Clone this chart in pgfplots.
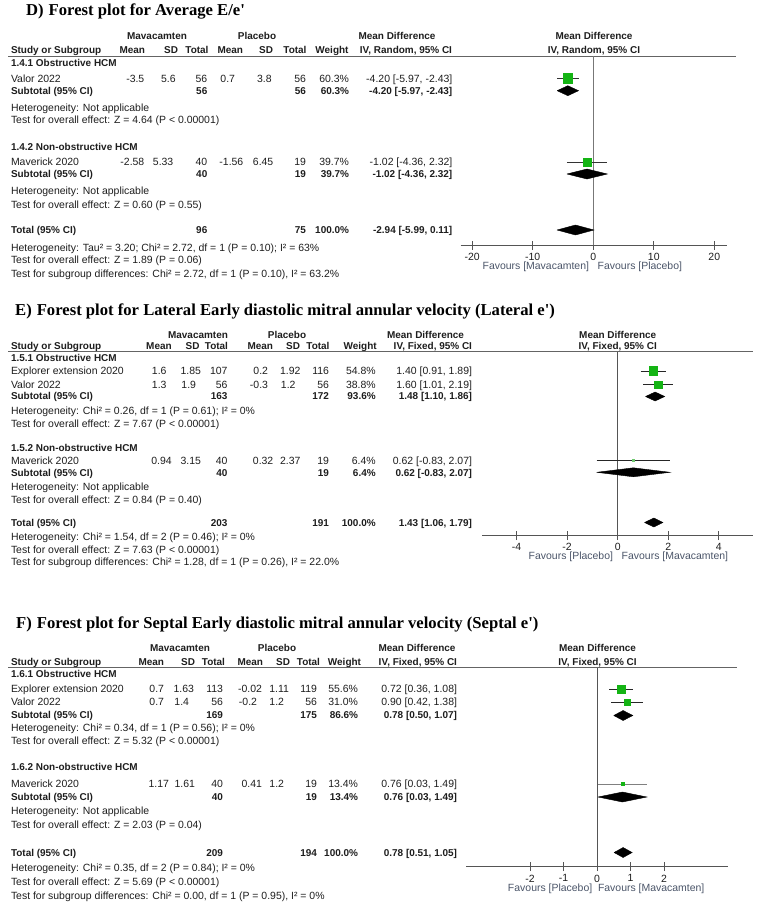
\documentclass[border=0pt]{standalone}
\usepackage{fontspec}
\setmainfont{Liberation Sans}
\newfontfamily\serifbf{Liberation Serif}
\usepackage{pgfplots}
\pgfplotsset{compat=1.18}
\definecolor{txt}{RGB}{30,30,30}
\definecolor{boxg}{RGB}{20,180,20}
\definecolor{lgreen}{RGB}{110,200,110}
\definecolor{axg}{RGB}{85,85,85}
\definecolor{fav}{RGB}{75,85,105}
\definecolor{rulec}{RGB}{100,100,100}
\tikzset{T/.style={inner sep=0pt, outer sep=0pt, font=\fontsize{10.5}{12}\selectfont, text=txt}}
\newcommand\Lt[3]{\node[T,anchor=base west] at ({#1bp},{-(#2+3.7)*1bp}) {#3};}
\newcommand\Rt[3]{\node[T,anchor=base east] at ({#1bp},{-(#2+3.7)*1bp}) {#3};}
\newcommand\Ct[3]{\node[T,anchor=base] at ({#1bp},{-(#2+3.7)*1bp}) {#3};}
\newcommand\B[1]{{\fontsize{10}{12}\selectfont\bfseries #1}}
\newcommand\Title[4]{\node[inner sep=0pt, anchor=base west, font=\serifbf\bfseries\fontsize{16.7}{18}\selectfont] at ({#1bp},{-(#2+5.5)*1bp}) {#3)\hspace{5bp}#4};}
\pgfplotsset{fp/.style={scale only axis, clip=false, anchor=north west,
  axis x line=bottom, axis y line=none,
  axis line style={-, draw=axg, line width=0.9bp},
  xtick align=center, major tick length=9bp,
  tick style={draw=axg, line width=0.9bp},
  xticklabel style={font=\fontsize{10.5}{12}\selectfont, text=txt},
  ytick=\empty}}
\begin{document}
\begin{tikzpicture}
\fill[white] (0,0) rectangle (764bp,-902bp);
\path[use as bounding box] (0,0) rectangle (764bp,-902bp);

% ================= Panel D =================
\Title{26}{10}{D}{Forest plot for Average E/e'}
\Ct{157}{35.7}{\B{Mavacamten}}
\Ct{257}{35.7}{\B{Placebo}}
\Ct{397}{35.7}{\B{Mean Difference}}
\Ct{594}{35.7}{\B{Mean Difference}}
\Lt{11}{50}{\B{Study or Subgroup}}
\Rt{145}{50}{\B{Mean}}
\Rt{178}{50}{\B{SD}}
\Rt{208.5}{50}{\B{Total}}
\Rt{243}{50}{\B{Mean}}
\Rt{273}{50}{\B{SD}}
\Rt{306.5}{50}{\B{Total}}
\Rt{348.5}{50}{\B{Weight}}
\Rt{452}{50}{\B{IV, Random, 95\% CI}}
\Ct{594}{50}{\B{IV, Random, 95\% CI}}
\draw[rulec, line width=1bp] (8bp,-56bp) -- (736bp,-56bp);
\Lt{11}{62.7}{\B{1.4.1 Obstructive HCM}}
\Lt{11}{78.5}{Valor 2022}
\Rt{144.3}{78.5}{-3.5}\Rt{175.7}{78.5}{5.6}\Rt{207.3}{78.5}{56}
\Rt{235}{78.5}{0.7}\Rt{271.7}{78.5}{3.8}\Rt{306}{78.5}{56}
\Rt{349}{78.5}{60.3\%}\Rt{452.3}{78.5}{-4.20 [-5.97, -2.43]}
\Lt{11}{90.7}{\B{Subtotal (95\% CI)}}
\Rt{207.3}{90.7}{\B{56}}\Rt{306}{90.7}{\B{56}}\Rt{349}{90.7}{\B{60.3\%}}\Rt{452.3}{90.7}{\B{-4.20 [-5.97, -2.43]}}
\Lt{11}{107.3}{Heterogeneity: Not applicable}
\Lt{11}{119.3}{Test for overall effect: Z = 4.64 (P < 0.00001)}
\Lt{11}{147}{\B{1.4.2 Non-obstructive HCM}}
\Lt{11}{162}{Maverick 2020}
\Rt{144.3}{162}{-2.58}\Rt{173.3}{162}{5.33}\Rt{207.3}{162}{40}
\Rt{243.3}{162}{-1.56}\Rt{273.3}{162}{6.45}\Rt{306}{162}{19}
\Rt{349}{162}{39.7\%}\Rt{452.3}{162}{-1.02 [-4.36, 2.32]}
\Lt{11}{174}{\B{Subtotal (95\% CI)}}
\Rt{207.3}{174}{\B{40}}\Rt{306}{174}{\B{19}}\Rt{349}{174}{\B{39.7\%}}\Rt{452.3}{174}{\B{-1.02 [-4.36, 2.32]}}
\Lt{11}{190.5}{Heterogeneity: Not applicable}
\Lt{11}{204.5}{Test for overall effect: Z = 0.60 (P = 0.55)}
\Lt{11}{230}{\B{Total (95\% CI)}}
\Rt{207.3}{230}{\B{96}}\Rt{306}{230}{\B{75}}\Rt{349}{230}{\B{100.0\%}}\Rt{452.3}{230}{\B{-2.94 [-5.99, 0.11]}}
\Lt{11}{247.3}{Heterogeneity: Tau² = 3.20; Chi² = 2.72, df = 1 (P = 0.10); I² = 63\%}
\Lt{11}{260}{Test for overall effect: Z = 1.89 (P = 0.06)}
\Lt{11}{274}{Test for subgroup differences: Chi² = 2.72, df = 1 (P = 0.10), I² = 63.2\%}
\node[T, text=fav, anchor=base east] at (589bp,-269.4bp) {Favours [Mavacamten]};
\node[T, text=fav, anchor=base west] at (597.7bp,-269.4bp) {Favours [Placebo]};

\begin{axis}[fp, at={(460.7bp,-56bp)}, width=266bp, height=189.4bp,
  xmin=-21.9, xmax=22.05, ymin=-245.4, ymax=-56,
  xtick={-20,-10,0,10,20}, xticklabels={-20,-10,0,10,20}]
\addplot[color=axg!80, line width=0.9bp] coordinates {(0,-56) (0,-245.4)};
\addplot[black!80, line width=0.7bp] coordinates {(-5.97,-78) (-2.43,-78)};
\addplot[only marks, mark=square*, mark size=4.7bp, mark options={draw=boxg, fill=boxg}] coordinates {(-4.20,-78)};
\addplot[fill=black, draw=black] coordinates {(-5.97,-90.7) (-4.20,-85.7) (-2.43,-90.7) (-4.20,-95.7) (-5.97,-90.7)};
\addplot[black!80, line width=0.7bp] coordinates {(-4.36,-162) (2.32,-162)};
\addplot[only marks, mark=square*, mark size=3.7bp, mark options={draw=boxg, fill=boxg}] coordinates {(-1.02,-162)};
\addplot[fill=black, draw=black] coordinates {(-4.36,-174) (-1.02,-169) (2.32,-174) (-1.02,-179) (-4.36,-174)};
\addplot[fill=black, draw=black] coordinates {(-5.99,-230) (-2.94,-225) (0.11,-230) (-2.94,-235) (-5.99,-230)};
\end{axis}

% ================= Panel E =================
\Title{15}{310}{E}{Forest plot for Lateral Early diastolic mitral annular velocity (Lateral e')}
\Ct{198}{335}{\B{Mavacamten}}
\Ct{287}{335}{\B{Placebo}}
\Ct{425.5}{335}{\B{Mean Difference}}
\Ct{617.7}{335}{\B{Mean Difference}}
\Lt{11}{346}{\B{Study or Subgroup}}
\Rt{171.7}{346}{\B{Mean}}
\Rt{199.5}{346}{\B{SD}}
\Rt{228}{346}{\B{Total}}
\Rt{273}{346}{\B{Mean}}
\Rt{300}{346}{\B{SD}}
\Rt{329.5}{346}{\B{Total}}
\Rt{376.7}{346}{\B{Weight}}
\Rt{472}{346}{\B{IV, Fixed, 95\% CI}}
\Ct{617.7}{346}{\B{IV, Fixed, 95\% CI}}
\draw[rulec, line width=1bp] (8bp,-351.5bp) -- (753bp,-351.5bp);
\Lt{11}{358}{\B{1.5.1 Obstructive HCM}}
\Lt{11}{371}{Explorer extension 2020}
\Rt{166.5}{371}{1.6}\Rt{201}{371}{1.85}\Rt{227.5}{371}{107}
\Rt{268}{371}{0.2}\Rt{300.5}{371}{1.92}\Rt{329}{371}{116}
\Rt{375.7}{371}{54.8\%}\Rt{472}{371}{1.40 [0.91, 1.89]}
\Lt{11}{384.3}{Valor 2022}
\Rt{166.5}{384.3}{1.3}\Rt{196}{384.3}{1.9}\Rt{227.5}{384.3}{56}
\Rt{268}{384.3}{-0.3}\Rt{295.5}{384.3}{1.2}\Rt{329}{384.3}{56}
\Rt{375.7}{384.3}{38.8\%}\Rt{472}{384.3}{1.60 [1.01, 2.19]}
\Lt{11}{396}{\B{Subtotal (95\% CI)}}
\Rt{227.5}{396}{\B{163}}\Rt{329}{396}{\B{172}}\Rt{375.7}{396}{\B{93.6\%}}\Rt{472}{396}{\B{1.48 [1.10, 1.86]}}
\Lt{11}{411}{Heterogeneity: Chi² = 0.26, df = 1 (P = 0.61); I² = 0\%}
\Lt{11}{423.3}{Test for overall effect: Z = 7.67 (P < 0.00001)}
\Lt{11}{447.5}{\B{1.5.2 Non-obstructive HCM}}
\Lt{11}{460.5}{Maverick 2020}
\Rt{171.7}{460.5}{0.94}\Rt{201}{460.5}{3.15}\Rt{227.5}{460.5}{40}
\Rt{273.3}{460.5}{0.32}\Rt{300.5}{460.5}{2.37}\Rt{329}{460.5}{19}
\Rt{375.7}{460.5}{6.4\%}\Rt{472}{460.5}{0.62 [-0.83, 2.07]}
\Lt{11}{472.5}{\B{Subtotal (95\% CI)}}
\Rt{227.5}{472.5}{\B{40}}\Rt{329}{472.5}{\B{19}}\Rt{375.7}{472.5}{\B{6.4\%}}\Rt{472}{472.5}{\B{0.62 [-0.83, 2.07]}}
\Lt{11}{486.5}{Heterogeneity: Not applicable}
\Lt{11}{499.7}{Test for overall effect: Z = 0.84 (P = 0.40)}
\Lt{11}{523}{\B{Total (95\% CI)}}
\Rt{227.5}{523}{\B{203}}\Rt{329}{523}{\B{191}}\Rt{375.7}{523}{\B{100.0\%}}\Rt{472}{523}{\B{1.43 [1.06, 1.79]}}
\Lt{11}{537}{Heterogeneity: Chi² = 1.54, df = 2 (P = 0.46); I² = 0\%}
\Lt{11}{549.3}{Test for overall effect: Z = 7.63 (P < 0.00001)}
\Lt{11}{562}{Test for subgroup differences: Chi² = 1.28, df = 1 (P = 0.26), I² = 22.0\%}
\node[T, text=fav, anchor=base east] at (613bp,-559.7bp) {Favours [Placebo]};
\node[T, text=fav, anchor=base west] at (621.7bp,-559.7bp) {Favours [Mavacamten]};

\begin{axis}[fp, at={(482.3bp,-351.5bp)}, width=271bp, height=184bp,
  xmin=-5.35, xmax=5.36, ymin=-535.5, ymax=-351.5,
  xtick={-4,-2,0,2,4}, xticklabels={-4,-2,0,2,4}]
\addplot[color=axg, line width=0.9bp] coordinates {(0,-351.5) (0,-535.5)};
\addplot[black!85, line width=0.7bp] coordinates {(0.91,-371) (1.89,-371)};
\addplot[only marks, mark=square*, mark size=4.4bp, mark options={draw=boxg, fill=boxg}] coordinates {(1.40,-371)};
\addplot[black!85, line width=0.7bp] coordinates {(1.01,-384.5) (2.19,-384.5)};
\addplot[only marks, mark=square*, mark size=3.6bp, mark options={draw=boxg, fill=boxg}] coordinates {(1.60,-384.5)};
\addplot[fill=black, draw=black] coordinates {(1.10,-396.5) (1.48,-392) (1.86,-396.5) (1.48,-401) (1.10,-396.5)};
\addplot[black!85, line width=0.7bp] coordinates {(-0.83,-460.3) (2.07,-460.3)};
\addplot[only marks, mark=square*, mark size=1.2bp, mark options={draw=lgreen, fill=lgreen}] coordinates {(0.62,-460.3)};
\addplot[fill=black, draw=black] coordinates {(-0.83,-472.3) (0.62,-467.8) (2.07,-472.3) (0.62,-476.8) (-0.83,-472.3)};
\addplot[fill=black, draw=black] coordinates {(1.06,-522.5) (1.43,-518) (1.79,-522.5) (1.43,-527) (1.06,-522.5)};
\end{axis}

% ================= Panel F =================
\Title{16}{623}{F}{Forest plot for Septal Early diastolic mitral annular velocity (Septal e')}
\Ct{180}{647.5}{\B{Mavacamten}}
\Ct{277}{647.5}{\B{Placebo}}
\Ct{417}{647.5}{\B{Mean Difference}}
\Ct{597.5}{647.5}{\B{Mean Difference}}
\Lt{11}{661.5}{\B{Study or Subgroup}}
\Rt{164}{661.5}{\B{Mean}}
\Rt{195}{661.5}{\B{SD}}
\Rt{225}{661.5}{\B{Total}}
\Rt{263}{661.5}{\B{Mean}}
\Rt{290}{661.5}{\B{SD}}
\Rt{320}{661.5}{\B{Total}}
\Rt{361}{661.5}{\B{Weight}}
\Rt{457}{661.5}{\B{IV, Fixed, 95\% CI}}
\Ct{597.5}{661.5}{\B{IV, Fixed, 95\% CI}}
\draw[rulec, line width=1bp] (8bp,-667.5bp) -- (736.7bp,-667.5bp);
\Lt{11}{674}{\B{1.6.1 Obstructive HCM}}
\Lt{11}{689}{Explorer extension 2020}
\Rt{164}{689}{0.7}\Rt{194}{689}{1.63}\Rt{223}{689}{113}
\Rt{262}{689}{-0.02}\Rt{289}{689}{1.11}\Rt{317}{689}{119}
\Rt{358}{689}{55.6\%}\Rt{457}{689}{0.72 [0.36, 1.08]}
\Lt{11}{702}{Valor 2022}
\Rt{164}{702}{0.7}\Rt{189}{702}{1.4}\Rt{223}{702}{56}
\Rt{257}{702}{-0.2}\Rt{284}{702}{1.2}\Rt{317}{702}{56}
\Rt{358}{702}{31.0\%}\Rt{457}{702}{0.90 [0.42, 1.38]}
\Lt{11}{715}{\B{Subtotal (95\% CI)}}
\Rt{223}{715}{\B{169}}\Rt{317}{715}{\B{175}}\Rt{358}{715}{\B{86.6\%}}\Rt{457}{715}{\B{0.78 [0.50, 1.07]}}
\Lt{11}{728}{Heterogeneity: Chi² = 0.34, df = 1 (P = 0.56); I² = 0\%}
\Lt{11}{741}{Test for overall effect: Z = 5.32 (P < 0.00001)}
\Lt{11}{767}{\B{1.6.2 Non-obstructive HCM}}
\Lt{11}{784}{Maverick 2020}
\Rt{169}{784}{1.17}\Rt{195}{784}{1.61}\Rt{223}{784}{40}
\Rt{262}{784}{0.41}\Rt{284}{784}{1.2}\Rt{317}{784}{19}
\Rt{358}{784}{13.4\%}\Rt{457}{784}{0.76 [0.03, 1.49]}
\Lt{11}{796.5}{\B{Subtotal (95\% CI)}}
\Rt{223}{796.5}{\B{40}}\Rt{317}{796.5}{\B{19}}\Rt{358}{796.5}{\B{13.4\%}}\Rt{457}{796.5}{\B{0.76 [0.03, 1.49]}}
\Lt{11}{811}{Heterogeneity: Not applicable}
\Lt{11}{825}{Test for overall effect: Z = 2.03 (P = 0.04)}
\Lt{11}{852.5}{\B{Total (95\% CI)}}
\Rt{223}{852.5}{\B{209}}\Rt{317}{852.5}{\B{194}}\Rt{358}{852.5}{\B{100.0\%}}\Rt{457}{852.5}{\B{0.78 [0.51, 1.05]}}
\Lt{11}{868}{Heterogeneity: Chi² = 0.35, df = 2 (P = 0.84); I² = 0\%}
\Lt{11}{882}{Test for overall effect: Z = 5.69 (P < 0.00001)}
\Lt{11}{896}{Test for subgroup differences: Chi² = 0.00, df = 1 (P = 0.95), I² = 0\%}
\node[T, text=fav, anchor=base east] at (592.3bp,-891.7bp) {Favours [Placebo]};
\node[T, text=fav, anchor=base west] at (598bp,-891.7bp) {Favours [Mavacamten]};

\begin{axis}[fp, at={(466bp,-667.5bp)}, width=262.3bp, height=199.2bp,
  xmin=-3.91, xmax=3.92, ymin=-866.7, ymax=-667.5,
  xtick={-2,-1,0,1,2}, xticklabels={-2,-1,0,1,2}]
\addplot[color=axg, line width=0.9bp] coordinates {(0,-667.5) (0,-866.7)};
\addplot[black!85, line width=0.7bp] coordinates {(0.36,-689) (1.08,-689)};
\addplot[only marks, mark=square*, mark size=4.2bp, mark options={draw=boxg, fill=boxg}] coordinates {(0.72,-689)};
\addplot[black!85, line width=0.7bp] coordinates {(0.42,-702.5) (1.38,-702.5)};
\addplot[only marks, mark=square*, mark size=2.9bp, mark options={draw=boxg, fill=boxg}] coordinates {(0.90,-702.5)};
\addplot[fill=black, draw=black] coordinates {(0.50,-715.5) (0.78,-710.5) (1.07,-715.5) (0.78,-720.5) (0.50,-715.5)};
\addplot[black!50, line width=0.8bp] coordinates {(0.03,-784) (1.49,-784)};
\addplot[only marks, mark=square*, mark size=1.5bp, mark options={draw=boxg, fill=boxg}] coordinates {(0.76,-784)};
\addplot[fill=black, draw=black] coordinates {(0.03,-797) (0.76,-792) (1.49,-797) (0.76,-802) (0.03,-797)};
\addplot[fill=black, draw=black] coordinates {(0.51,-852.5) (0.78,-847.5) (1.05,-852.5) (0.78,-857.5) (0.51,-852.5)};
\end{axis}
\end{tikzpicture}
\end{document}
